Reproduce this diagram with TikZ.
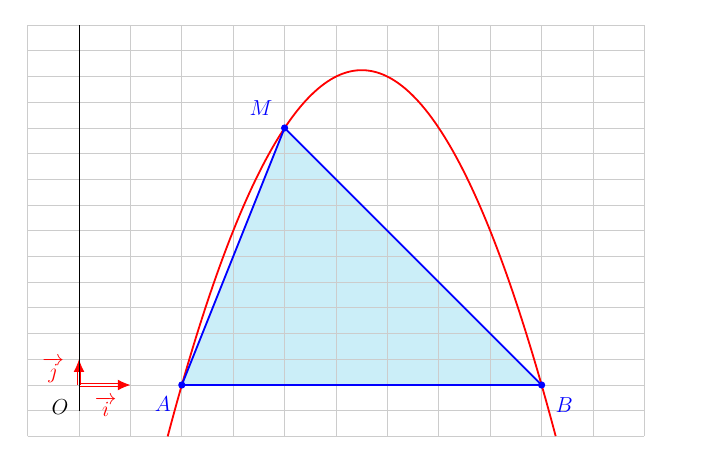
\documentclass[tikz,border=0pt]{standalone}
\usetikzlibrary{arrows.meta}
\definecolor{triangle}{RGB}{203,238,248}
\begin{document}
\begin{tikzpicture}[
    x=1cm, y=0.5cm,
    every node/.style={font=\large},
    gridline/.style={gray!40, line width=0.5pt},
    courbe/.style={red, line width=1pt},
    segment/.style={blue, line width=1pt},
    vecteur/.style={
        red,
        double=white,
        line width=0.45pt,
        double distance=1.1pt,
        -{Latex[length=7pt,width=6pt]}
    },
    dot/.style={blue},
    lbl/.style={blue}
]
\useasboundingbox (-1.537,-3.38) rectangle (12.198,14.98);

% ===== Points =====
\coordinate (O) at (0,0);
\coordinate (I) at (1,0);
\coordinate (J) at (0,1);
\coordinate (A) at (2,0);
\coordinate (B) at (9,0);
\coordinate (M) at (4,10);
\coordinate (ybas) at (0,-1);
\coordinate (yhaut) at (0,14);

% ===== Triangle and grid =====
\fill[triangle] (A) -- (M) -- (B) -- cycle;
\draw[gridline, xstep=1cm, ystep=0.5cm] (-1,-2) grid (11,14);

% ===== Frame =====
\draw[vecteur] (O) -- (I);
\draw[vecteur] (O) -- (J);
\draw[black, line width=0.5pt] (ybas) -- (yhaut);

% ===== Parabola =====
\draw[courbe] plot[domain=1.7251:9.2749, samples=120] (\x,{(\x-2)*(9-\x)});

% ===== Triangle sides =====
\draw[segment] (A) -- (M);
\draw[segment] (M) -- (B);
\draw[segment] (B) -- (A);
\fill[dot] (A) circle (2pt);
\fill[dot] (B) circle (2pt);
\fill[dot] (M) circle (2pt);

% ===== Labels =====
\node (labO) at (-0.37,-0.86) {$O$};
\node[red] (labi) at (0.52,-0.84) {$\overrightarrow{i}$};
\node[red] (labj) at (-0.5,0.58) {$\overrightarrow{j}$};
\node[lbl] (labA) at (1.63,-0.74) {$A$};
\node[lbl] (labB) at (9.44,-0.78) {$B$};
\node[lbl] (labM) at (3.54,10.78) {$M$};

\end{tikzpicture}
\end{document}
